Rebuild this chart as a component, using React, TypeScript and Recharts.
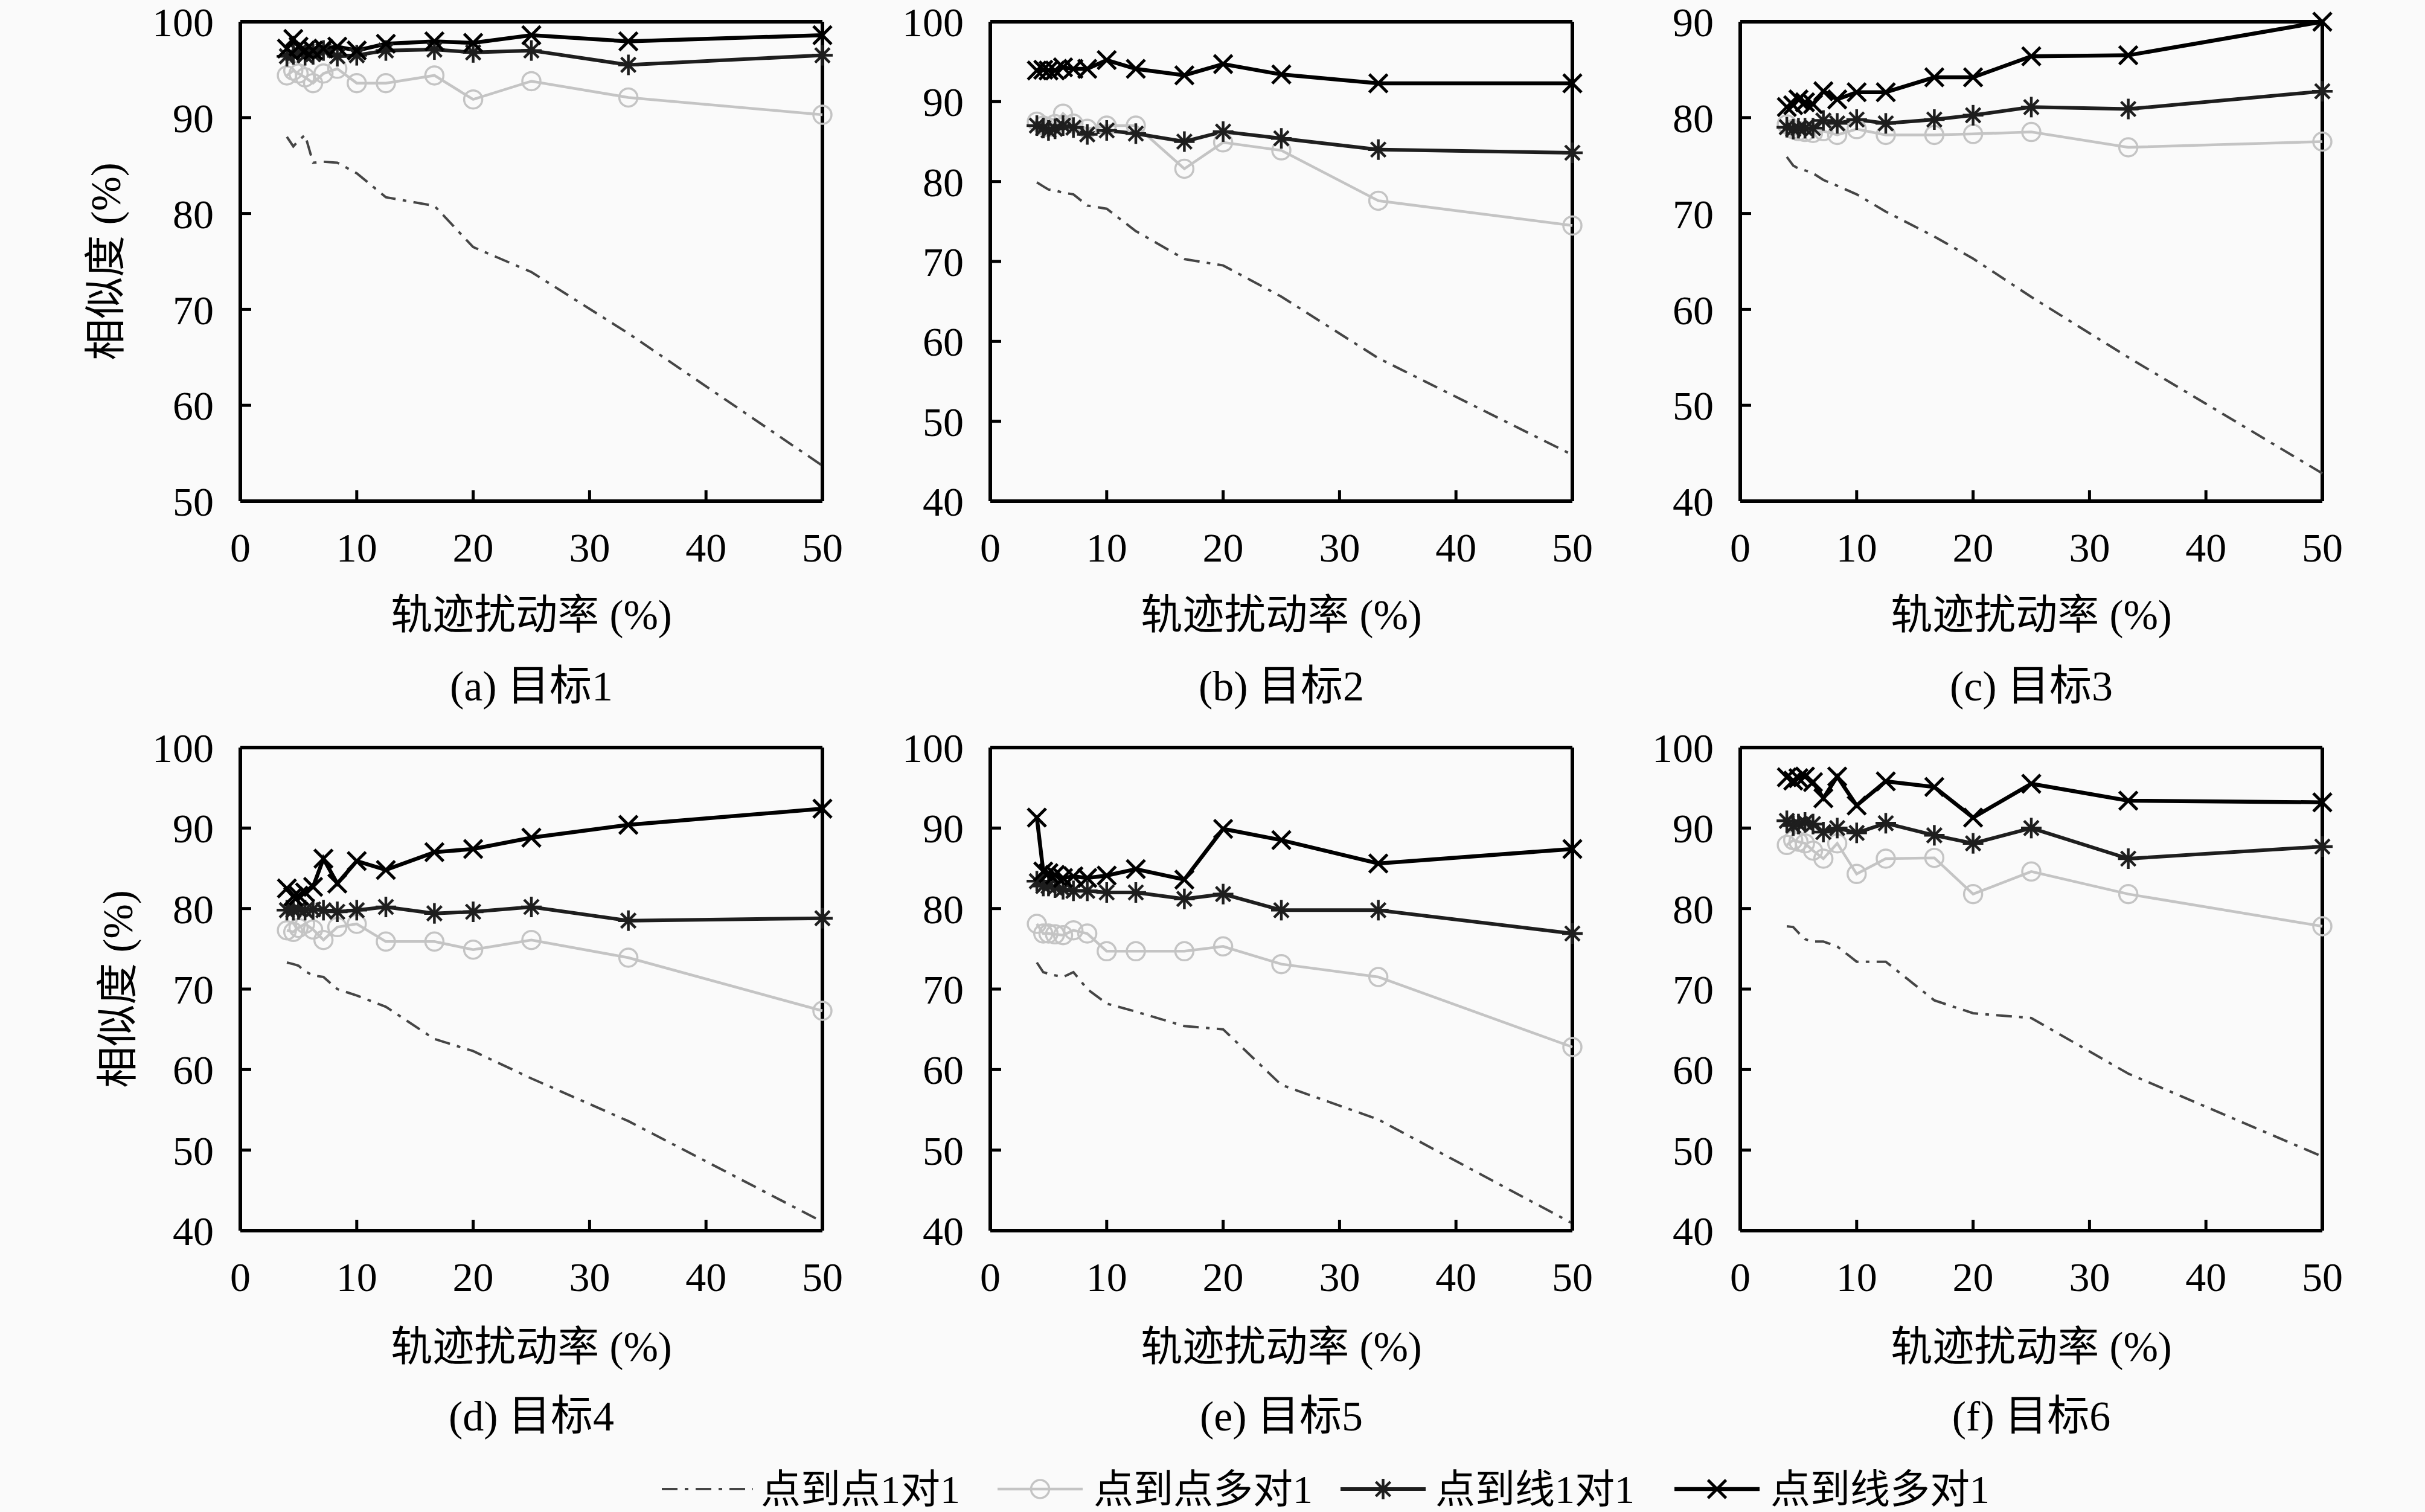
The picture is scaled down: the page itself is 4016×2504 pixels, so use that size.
import React from 'react';
import { LineChart, Line, XAxis, YAxis, ReferenceLine } from 'recharts';

const RATES = [4, 4.55, 5, 5.56, 6.25, 7.14, 8.33, 10, 12.5, 16.67, 20, 25, 33.33, 50];
const X_TICKS = [0, 10, 20, 30, 40, 50];

const SERIES_NAMES = ['点到点1对1', '点到点多对1', '点到线1对1', '点到线多对1'];

const A_P2P_1 = [88.0, 87.0, 87.6, 88.2, 85.3, 85.4, 85.3, 84.2, 81.7, 80.8, 76.5, 73.9, 67.5, 53.7];
const A_P2P_M = [94.4, 94.9, 94.6, 94.2, 93.6, 94.6, 95.1, 93.6, 93.6, 94.4, 91.9, 93.8, 92.1, 90.3];
const A_P2L_1 = [96.4, 96.6, 96.8, 96.5, 96.6, 97.0, 96.4, 96.5, 97.0, 97.1, 96.8, 97.0, 95.5, 96.5];
const A_P2L_M = [97.2, 98.2, 97.4, 97.0, 97.0, 97.2, 97.4, 97.0, 97.7, 97.95, 97.8, 98.6, 97.95, 98.6];

const B_P2P_1 = [79.9, 79.4, 79.0, 78.9, 78.6, 78.4, 77.0, 76.6, 73.8, 70.3, 69.5, 65.6, 57.9, 45.8];
const B_P2P_M = [87.5, 87.0, 86.8, 87.2, 88.5, 87.25, 86.6, 87.0, 87.0, 81.6, 84.9, 83.9, 77.6, 74.5];
const B_P2L_1 = [87.0, 86.7, 86.4, 86.6, 87.0, 86.75, 85.9, 86.4, 86.0, 85.0, 86.25, 85.4, 84.0, 83.6];
const B_P2L_M = [93.9, 94.0, 93.9, 93.9, 94.3, 94.1, 94.1, 95.2, 94.1, 93.3, 94.7, 93.4, 92.3, 92.3];

const C_P2P_1 = [75.9, 75.0, 74.7, 74.5, 74.2, 73.5, 72.9, 72.0, 70.2, 67.6, 65.3, 61.3, 55.0, 42.9];
const C_P2P_M = [79.3, 78.8, 78.6, 78.5, 78.4, 78.6, 78.2, 78.8, 78.2, 78.2, 78.3, 78.5, 76.9, 77.5];
const C_P2L_1 = [79.0, 78.8, 78.9, 78.9, 78.9, 79.7, 79.4, 79.8, 79.4, 79.8, 80.25, 81.1, 80.9, 82.75];
const C_P2L_M = [81.1, 81.3, 81.9, 81.6, 81.4, 82.75, 81.9, 82.65, 82.65, 84.2, 84.2, 86.4, 86.5, 90.0];

const D_P2P_1 = [73.3, 73.1, 72.9, 72.2, 71.7, 71.5, 70.0, 69.2, 67.8, 63.8, 62.3, 58.9, 53.6, 41.1];
const D_P2P_M = [77.3, 77.1, 77.6, 78.1, 77.4, 76.1, 77.7, 78.1, 75.9, 75.9, 74.9, 76.1, 73.9, 67.3];
const D_P2L_1 = [79.8, 79.8, 79.9, 79.8, 79.9, 79.8, 79.6, 79.8, 80.2, 79.4, 79.6, 80.2, 78.5, 78.8];
const D_P2L_M = [82.5, 81.5, 81.6, 82.0, 82.7, 86.2, 83.1, 85.9, 84.8, 87.0, 87.4, 88.8, 90.4, 92.4];

const E_P2P_1 = [73.3, 72.1, 71.9, 71.7, 71.5, 72.1, 70.0, 68.2, 67.2, 65.4, 65.0, 58.1, 53.8, 40.9];
const E_P2P_M = [78.1, 76.9, 76.9, 76.8, 76.7, 77.3, 76.9, 74.7, 74.7, 74.7, 75.3, 73.1, 71.5, 62.8];
const E_P2L_1 = [83.4, 82.8, 82.8, 82.6, 82.4, 82.2, 82.2, 82.0, 82.0, 81.2, 81.8, 79.8, 79.8, 76.9];
const E_P2L_M = [91.3, 84.6, 84.4, 84.2, 83.8, 84.0, 83.8, 84.1, 84.9, 83.6, 89.9, 88.5, 85.6, 87.4];

const F_P2P_1 = [77.8, 77.7, 77.0, 76.2, 75.9, 75.9, 75.3, 73.4, 73.4, 68.6, 67.0, 66.4, 59.5, 49.2];
const F_P2P_M = [87.9, 88.5, 88.3, 88.1, 87.2, 86.2, 88.1, 84.3, 86.2, 86.3, 81.8, 84.6, 81.8, 77.8];
const F_P2L_1 = [90.9, 90.3, 90.5, 90.7, 90.5, 89.5, 90.0, 89.4, 90.6, 89.1, 88.1, 90.0, 86.2, 87.7];
const F_P2L_M = [96.3, 95.9, 96.2, 96.4, 95.7, 93.7, 96.4, 92.8, 95.8, 95.1, 91.3, 95.5, 93.4, 93.2];

const Y_TICKS_A = [50, 60, 70, 80, 90, 100];
const Y_TICKS_B = [40, 50, 60, 70, 80, 90, 100];
const Y_TICKS_C = [40, 50, 60, 70, 80, 90];
const Y_TICKS_DEF = [40, 50, 60, 70, 80, 90, 100];

const CAPTIONS = ['(a) 目标1', '(b) 目标2', '(c) 目标3', '(d) 目标4', '(e) 目标5', '(f) 目标6'];
const X_LABEL = '轨迹扰动率 (%)';
const Y_LABEL = '相似度 (%)';

const FONT = "'Liberation Serif', 'Noto Sans CJK SC', serif";
const FS_TICK = 68;
const FS_LABEL = 69;
const FS_CAP = 70;
const FS_LEG = 66;

const PLOT_W = 964;
const ML = 260;
const MT = 40;
const MR = 60;
const XH = 150;
const COL_L = [398, 1640, 2882];
const ROW_T = [36, 1238];
const ROW_H = [794, 800];

const buildRows = (p1: number[], pm: number[], l1: number[], lm: number[]) =>
  RATES.map((x, i) => ({ x, p1: p1[i], pm: pm[i], l1: l1[i], lm: lm[i] }));

const PANELS = [
  { rows: buildRows(A_P2P_1, A_P2P_M, A_P2L_1, A_P2L_M), ticks: Y_TICKS_A },
  { rows: buildRows(B_P2P_1, B_P2P_M, B_P2L_1, B_P2L_M), ticks: Y_TICKS_B },
  { rows: buildRows(C_P2P_1, C_P2P_M, C_P2L_1, C_P2L_M), ticks: Y_TICKS_C },
  { rows: buildRows(D_P2P_1, D_P2P_M, D_P2L_1, D_P2L_M), ticks: Y_TICKS_DEF },
  { rows: buildRows(E_P2P_1, E_P2P_M, E_P2L_1, E_P2L_M), ticks: Y_TICKS_DEF },
  { rows: buildRows(F_P2P_1, F_P2P_M, F_P2L_1, F_P2L_M), ticks: Y_TICKS_DEF },
];

const DASH_COLOR = '#454545';
const GRAY_COLOR = '#c4c4c4';
const AST_COLOR = '#1e1e1e';
const CROSS_COLOR = '#000000';

const CircleMark = ({ cx, cy }: { cx: number; cy: number }) => (
  <circle cx={cx} cy={cy} r={15} fill="none" stroke={GRAY_COLOR} strokeWidth={3.5} />
);
const AstMark = ({ cx, cy }: { cx: number; cy: number }) => {
  const s = 17;
  const d = 12;
  return (
    <g stroke={AST_COLOR} strokeWidth={4.5}>
      <line x1={cx} y1={cy - s} x2={cx} y2={cy + s} />
      <line x1={cx - s} y1={cy} x2={cx + s} y2={cy} />
      <line x1={cx - d} y1={cy - d} x2={cx + d} y2={cy + d} />
      <line x1={cx - d} y1={cy + d} x2={cx + d} y2={cy - d} />
    </g>
  );
};
const CrossMark = ({ cx, cy }: { cx: number; cy: number }) => {
  const s = 15;
  return (
    <g stroke={CROSS_COLOR} strokeWidth={5}>
      <line x1={cx - s} y1={cy - s} x2={cx + s} y2={cy + s} />
      <line x1={cx - s} y1={cy + s} x2={cx + s} y2={cy - s} />
    </g>
  );
};

const dotFn = (Comp: any, name: string) => (props: any) => {
  if (props.cx == null || props.cy == null) return <g key={`${name}-${props.index}`} />;
  return (
    <g key={`${name}-${props.index}`}>
      <Comp cx={props.cx} cy={props.cy} />
    </g>
  );
};

const tickStyle = { fontSize: FS_TICK, fill: '#000', fontFamily: FONT };

const textBox = (fs: number): React.CSSProperties => ({
  position: 'absolute',
  width: 900,
  height: 100,
  lineHeight: '100px',
  textAlign: 'center',
  fontSize: fs,
  fontFamily: FONT,
  color: '#000',
  whiteSpace: 'nowrap',
});

const Panel = ({ idx }: { idx: number }) => {
  const p = PANELS[idx];
  const col = idx % 3;
  const row = Math.floor(idx / 3);
  const plotH = ROW_H[row];
  const left = COL_L[col] - ML;
  const top = ROW_T[row] - MT;
  const yMin = p.ticks[0];
  const yMax = p.ticks[p.ticks.length - 1];
  const cxCenter = COL_L[col] + PLOT_W / 2;
  return (
    <>
      <div style={{ position: 'absolute', left, top }}>
        <LineChart
          width={ML + PLOT_W + MR}
          height={MT + plotH + XH}
          data={p.rows}
          margin={{ top: MT, right: MR, left: 0, bottom: 0 }}
          style={{ overflow: 'visible' }}
        >
          <XAxis
            dataKey="x"
            type="number"
            domain={[0, 50]}
            ticks={X_TICKS}
            interval={0}
            height={XH}
            tickSize={-18}
            tickMargin={70}
            tick={tickStyle}
            axisLine={{ stroke: '#000', strokeWidth: 6 }}
            tickLine={{ stroke: '#000', strokeWidth: 5 }}
          />
          <YAxis
            type="number"
            domain={[yMin, yMax]}
            ticks={p.ticks}
            interval={0}
            width={ML}
            tickSize={-18}
            tickMargin={62}
            tick={tickStyle}
            axisLine={{ stroke: '#000', strokeWidth: 6 }}
            tickLine={{ stroke: '#000', strokeWidth: 5 }}
          />
          <ReferenceLine y={yMax} stroke="#000" strokeWidth={6} />
          <ReferenceLine x={50} stroke="#000" strokeWidth={6} />
          <Line
            dataKey="p1"
            name={SERIES_NAMES[0]}
            stroke={DASH_COLOR}
            strokeWidth={4}
            strokeDasharray="26 12 6 12"
            dot={false}
            activeDot={false}
            isAnimationActive={false}
          />
          <Line
            dataKey="pm"
            name={SERIES_NAMES[1]}
            stroke={GRAY_COLOR}
            strokeWidth={4.5}
            dot={dotFn(CircleMark, 'pm')}
            activeDot={false}
            isAnimationActive={false}
          />
          <Line
            dataKey="l1"
            name={SERIES_NAMES[2]}
            stroke={AST_COLOR}
            strokeWidth={6}
            dot={dotFn(AstMark, 'l1')}
            activeDot={false}
            isAnimationActive={false}
          />
          <Line
            dataKey="lm"
            name={SERIES_NAMES[3]}
            stroke={CROSS_COLOR}
            strokeWidth={6.5}
            dot={dotFn(CrossMark, 'lm')}
            activeDot={false}
            isAnimationActive={false}
          />
        </LineChart>
      </div>
      <div style={{ ...textBox(FS_LABEL), left: cxCenter - 450, top: (row === 0 ? 1019 : 2231) - 50 }}>
        {X_LABEL}
      </div>
      <div style={{ ...textBox(FS_CAP), left: cxCenter - 450, top: (row === 0 ? 1137 : 2346) - 50 }}>
        {CAPTIONS[idx]}
      </div>
      {col === 0 && (
        <div
          style={{
            ...textBox(FS_LABEL),
            left: (row === 0 ? 176 : 196) - 450,
            top: ROW_T[row] + plotH / 2 - 50,
            transform: 'rotate(-90deg)',
          }}
        >
          {Y_LABEL}
        </div>
      )}
    </>
  );
};

const LEGEND_ITEMS = [
  { x1: 1096, x2: 1247, tx: 1260, kind: 'dash' },
  { x1: 1652, x2: 1793, tx: 1811, kind: 'gray' },
  { x1: 2220, x2: 2361, tx: 2377, kind: 'ast' },
  { x1: 2773, x2: 2914, tx: 2932, kind: 'cross' },
];

const Legend = () => {
  const cy = 45;
  return (
    <svg width={4016} height={90} style={{ position: 'absolute', left: 0, top: 2466 - cy }}>
      {LEGEND_ITEMS.map((it, i) => {
        const mx = (it.x1 + it.x2) / 2;
        let line: any;
        let mark: any = null;
        if (it.kind === 'dash') {
          line = <line x1={it.x1} y1={cy} x2={it.x2} y2={cy} stroke={DASH_COLOR} strokeWidth={4} strokeDasharray="26 12 6 12" />;
        } else if (it.kind === 'gray') {
          line = <line x1={it.x1} y1={cy} x2={it.x2} y2={cy} stroke={GRAY_COLOR} strokeWidth={4.5} />;
          mark = <CircleMark cx={mx} cy={cy} />;
        } else if (it.kind === 'ast') {
          line = <line x1={it.x1} y1={cy} x2={it.x2} y2={cy} stroke={AST_COLOR} strokeWidth={6} />;
          mark = <AstMark cx={mx} cy={cy} />;
        } else {
          line = <line x1={it.x1} y1={cy} x2={it.x2} y2={cy} stroke={CROSS_COLOR} strokeWidth={6.5} />;
          mark = <CrossMark cx={mx} cy={cy} />;
        }
        return (
          <g key={i}>
            {line}
            {mark}
            <text x={it.tx} y={cy} dominantBaseline="central" fontSize={FS_LEG} fontFamily={FONT} fill="#000">
              {SERIES_NAMES[i]}
            </text>
          </g>
        );
      })}
    </svg>
  );
};

export default function App() {
  return (
    <div
      style={{
        position: 'absolute',
        left: 0,
        top: 0,
        width: 4016,
        height: 2504,
        background: '#fafafa',
        overflow: 'hidden',
      }}
    >
      {PANELS.map((_, i) => (
        <Panel key={i} idx={i} />
      ))}
      <Legend />
    </div>
  );
}
